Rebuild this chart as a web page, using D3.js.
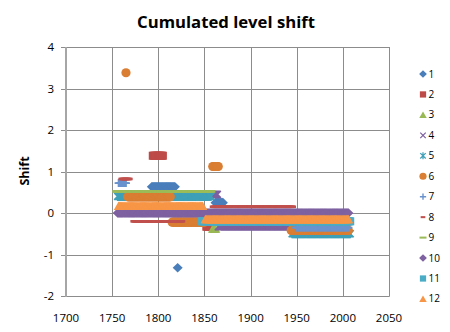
<!DOCTYPE html>
<html><head><meta charset="utf-8">
<script src="https://cdn.jsdelivr.net/npm/d3@7"></script>
<style>body{margin:0;background:#fff}svg{display:block}</style>
</head><body><svg id="c" width="450" height="332"></svg>
<script>
// ---- data ----
const xTicks = [1700, 1750, 1800, 1850, 1900, 1950, 2000, 2050];
const yTicks = [-2, -1, 0, 1, 2, 3, 4];
const seriesNames = ["1","2","3","4","5","6","7","8","9","10","11","12"];
// each series: level segments [firstYear, lastYear, cumulated shift]
const s1  = [[1793,1818,0.63],[1821,1821,-1.32],[1862,1870,0.25]];
const s2  = [[1794,1805,1.38],[1852,1857,-0.33]];
const s3  = [[1859,1862,-0.38]];
const s4  = [[1852,1864,0.45],[1865,1945,-0.33]];
const s5  = [[1756,1857,0.40],[1945,2008,-0.50]];
const s6  = [[1765,1765,3.38],[1767,1813,0.39],[1815,1850,-0.22],[1859,1865,1.12],[1944,2006,-0.42]];
const s7  = [[1757,1765,0.72],[1949,2006,-0.35]];
const s8  = [[1760,1769,0.82],[1773,1826,-0.20],[1859,1946,0.15],[1948,2006,-0.27]];
const s9  = [[1755,1857,0.52]];
const s10 = [[1756,2006,0.00]];
const s11 = [[1847,2008,-0.20]];
const s12 = [[1757,1848,0.17],[1851,2006,-0.15]];
const seriesSegments = [s1,s2,s3,s4,s5,s6,s7,s8,s9,s10,s11,s12];

// ---- style ----
const colors = ["#4A7EBB","#BE4B48","#98B954","#7D60A0","#3FA0B8","#D97E33",
                "#6A93CE","#C0504D","#9BBB59","#7E62A1","#4BACC6","#F79646"];
const shapes = ["diamond","square","triangle","x","star","circle","plus","dash","longdash","diamond","square","triangle"];

const svg = d3.select("#c");
const x = d3.scaleLinear().domain([1700, 2050]).range([66, 389]);
const y = d3.scaleLinear().domain([-2, 4]).range([296, 47]);
const FONT = "'Open Sans', 'Liberation Sans', sans-serif";

// gridlines
const grid = svg.append("g");
grid.selectAll("line.h").data(yTicks).join("line")
  .attr("x1", 61).attr("x2", x(2050)+0.5)
  .attr("y1", d => Math.round(y(d))+0.5).attr("y2", d => Math.round(y(d))+0.5)
  .attr("stroke", "#8c8c8c").attr("stroke-width", 1);
grid.selectAll("line.v").data(xTicks.slice(1)).join("line")
  .attr("x1", d => Math.round(x(d))+0.5).attr("x2", d => Math.round(x(d))+0.5)
  .attr("y1", y(4)).attr("y2", y(-2)+0.5)
  .attr("stroke", "#8c8c8c").attr("stroke-width", 1);
// left axis line
svg.append("line").attr("x1", x(1700)).attr("x2", x(1700))
  .attr("y1", y(4)).attr("y2", y(-2)+1)
  .attr("stroke", "#a6a6a6").attr("stroke-width", 2);

// tick labels
svg.append("g").selectAll("text").data(yTicks).join("text")
  .attr("x", 54).attr("y", d => y(d)).attr("dy", "0.36em")
  .attr("text-anchor", "end").attr("font-family", FONT).attr("font-size", 11.5)
  .attr("fill", "#000").text(d => d);
svg.append("g").selectAll("text").data(xTicks).join("text")
  .attr("x", d => x(d)).attr("y", 322)
  .attr("text-anchor", "middle").attr("font-family", FONT).attr("font-size", 11.5)
  .attr("fill", "#000").text(d => d);

// marker drawing
function drawMarker(g, shape, color) {
  switch (shape) {
    case "diamond": g.append("path").attr("d","M0,-4.8L5,0L0,4.8L-5,0Z").attr("fill",color); break;
    case "square": g.append("rect").attr("x",-4).attr("y",-4).attr("width",8).attr("height",8).attr("fill",color); break;
    case "triangle": g.append("path").attr("d","M0,-4.5L4.8,4L-4.8,4Z").attr("fill",color); break;
    case "circle": g.append("circle").attr("r",4.6).attr("fill",color); break;
    case "x": g.append("path").attr("d","M-3.5,-3.5L3.5,3.5M-3.5,3.5L3.5,-3.5").attr("stroke",color).attr("stroke-width",1.6).attr("fill","none"); break;
    case "star": g.append("path").attr("d","M-3.5,-3.5L3.5,3.5M-3.5,3.5L3.5,-3.5M0,-4.5L0,4.5").attr("stroke",color).attr("stroke-width",1.6).attr("fill","none"); break;
    case "plus": g.append("path").attr("d","M-4,0L4,0M0,-4L0,4").attr("stroke",color).attr("stroke-width",1.8).attr("fill","none"); break;
    case "dash": g.append("rect").attr("x",-3).attr("y",-1.3).attr("width",6).attr("height",2.6).attr("fill",color); break;
    case "longdash": g.append("rect").attr("x",-4.5).attr("y",-1.3).attr("width",9).attr("height",2.6).attr("fill",color); break;
  }
}

// series points (one per year)
const plot = svg.append("g");
seriesSegments.forEach((segs, i) => {
  const pts = [];
  segs.forEach(([a, b, v]) => { for (let yr = a; yr <= b; yr++) pts.push({yr, v}); });
  const g = plot.append("g");
  g.selectAll("g").data(pts).join("g")
    .attr("transform", d => `translate(${x(d.yr)},${y(d.v)})`)
    .each(function() { drawMarker(d3.select(this), shapes[i], colors[i]); });
});

// legend
const leg = svg.append("g");
seriesNames.forEach((n, i) => {
  const yy = 74 + i * 20.45;
  const g = leg.append("g").attr("transform", `translate(423,${yy}) scale(0.78)`);
  drawMarker(g, shapes[i], colors[i]);
  leg.append("text").attr("x", 428.5).attr("y", yy).attr("dy", "0.35em")
    .attr("font-family", FONT).attr("font-size", 10).attr("fill", "#000").text(n);
});

// title
const title = svg.append("text").attr("x", 226).attr("y", 28)
  .attr("text-anchor", "middle").attr("font-family", FONT).attr("font-weight", "bold")
  .attr("font-size", 16).attr("fill", "#000").text("Cumulated level shift");
const w = title.node().getComputedTextLength();
title.attr("font-size", 16 * 178 / w);

// y axis title
svg.append("text").attr("transform", "translate(29,171) rotate(-90)")
  .attr("text-anchor", "middle").attr("font-family", FONT).attr("font-weight", "bold")
  .attr("font-size", 12.5).attr("fill", "#000").text("Shift");
</script></body></html>
